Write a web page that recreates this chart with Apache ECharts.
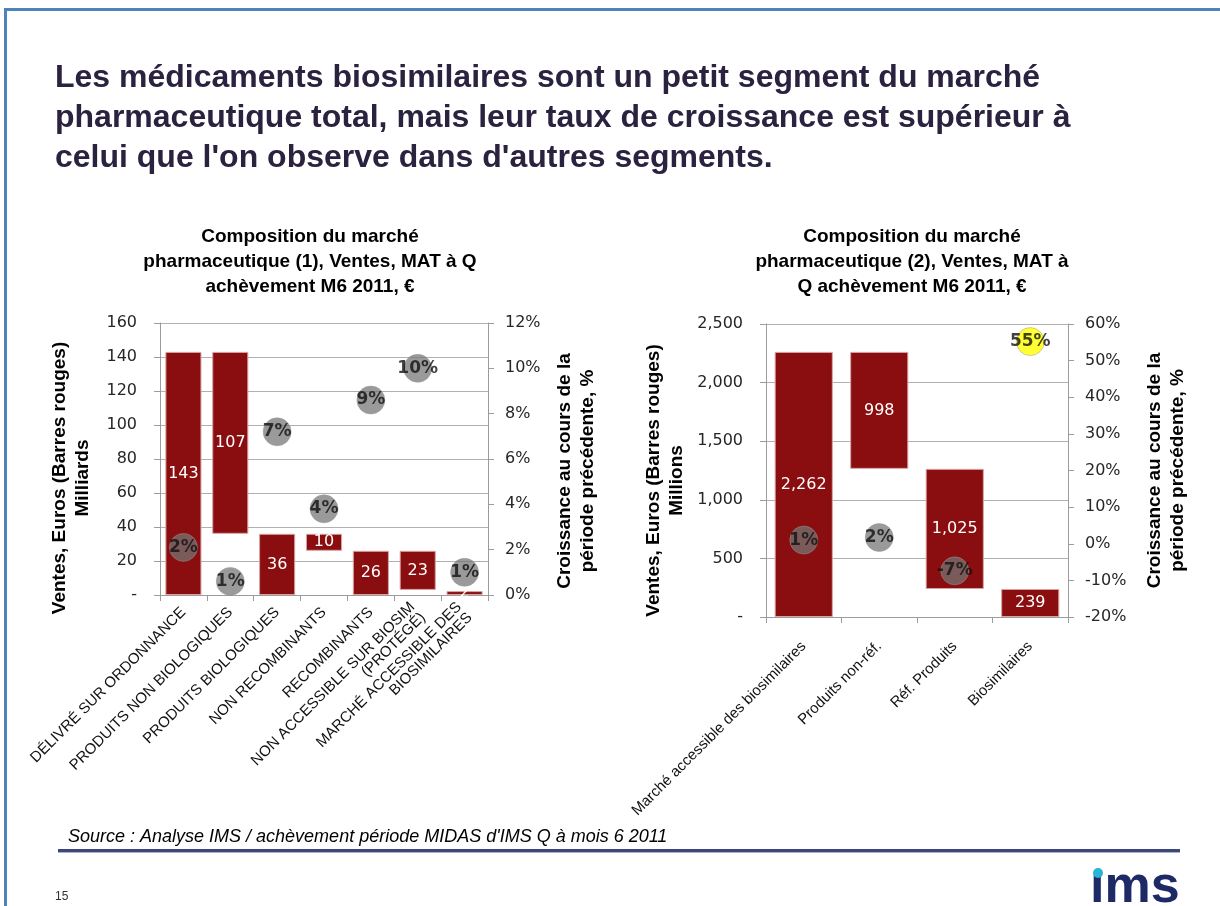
<!DOCTYPE html>
<html>
<head>
<meta charset="utf-8">
<title>Biosimilaires</title>
<script src="https://cdn.jsdelivr.net/npm/echarts@6/dist/echarts.min.js"></script>
<style>
html,body{margin:0;padding:0;background:#fff;}
#main{width:1220px;height:906px;}
</style>
</head>
<body>
<div id="main"></div>
<script>
// graphique 1 : composition du marché, milliards €
var cats1 = ['DÉLIVRÉ SUR ORDONNANCE', 'PRODUITS NON BIOLOGIQUES', 'PRODUITS BIOLOGIQUES', 'NON RECOMBINANTS',
  'RECOMBINANTS', 'NON ACCESSIBLE SUR BIOSIM\n(PROTÉGÉ)', 'MARCHÉ ACCESSIBLE DES\nBIOSIMILAIRES'];
var base1 = [0, 36, 0, 26, 0, 3, 0];          // bas des barres flottantes
var ventes1 = [143, 107, 36, 10, 26, 23, 2.3];
var croiss1 = [2.1, 0.6, 7.2, 3.8, 8.6, 10, 1];
var ticksVentes1 = [0, 20, 40, 60, 80, 100, 120, 140, 160];
var ticksCroiss1 = [0, 2, 4, 6, 8, 10, 12];

// graphique 2 : marché accessible, millions €
var cats2 = ['Marché accessible des biosimilaires', 'Produits non-réf.', 'Réf. Produits', 'Biosimilaires'];
var base2 = [0, 1264, 239, 0];
var ventes2 = [2262, 998, 1025, 239];
var croiss2 = [1, 1.7, -7.4, 55.2];
var ticksVentes2 = [0, 500, 1000, 1500, 2000, 2500];
var ticksCroiss2 = [-20, -10, 0, 10, 20, 30, 40, 50, 60];

var rouge = '#8a0d0f';
var grisAxe = '#9c9c9c';

function bornes(t){
  return {min: t[0], max: t[t.length - 1], interval: t[1] - t[0]};
}
function tiret(v){
  return v === 0 ? '-' : v.toLocaleString('en-US');
}

function axeY(grid, ticks, fmt, nom, gap, decal, marge){
  var b = bornes(ticks);
  return {
    type: 'value', gridIndex: grid, min: b.min, max: b.max, interval: b.interval,
    axisLine: {show: true, lineStyle: {color: grisAxe}},
    axisTick: {show: true, length: 6, lineStyle: {color: grisAxe}},
    splitLine: {show: false},
    axisLabel: {formatter: fmt, fontFamily: 'DejaVu Sans', fontSize: 16, color: '#262626', margin: marge},
    name: nom, nameLocation: 'middle', nameGap: gap,
    nameTextStyle: {fontFamily: 'Liberation Sans', fontSize: 19, fontWeight: 'bold', color: '#000',
      lineHeight: 23, padding: [0, decal, 0, 0]}
  };
}

function axeX(grid, cats, marge){
  return {
    type: 'category', gridIndex: grid, data: cats,
    axisLine: {show: true, lineStyle: {color: grisAxe}},
    axisTick: {show: true, length: 6, lineStyle: {color: grisAxe}},
    axisLabel: {rotate: 45, interval: 0, fontFamily: 'Liberation Sans', fontSize: 15, color: '#111',
      margin: marge, lineHeight: 15}
  };
}

var yAxes = [
  axeY(0, ticksVentes1, tiret, 'Ventes, Euros (Barres rouges)\nMilliards', 66, 38, 23),
  axeY(0, ticksCroiss1, '{value}%', 'Croissance au cours de la\npériode précédente, %', 65, 24, 17),
  axeY(1, ticksVentes2, tiret, 'Ventes, Euros (Barres rouges)\nMillions', 78, 20, 23),
  axeY(1, ticksCroiss2, '{value}%', 'Croissance au cours de la\npériode précédente, %', 75, 0, 17)
];
yAxes[0].splitLine = {show: true, lineStyle: {color: '#b0b0b0'}};
yAxes[2].splitLine = {show: true, lineStyle: {color: '#b0b0b0'}};
yAxes[1].position = 'right';
yAxes[3].position = 'right';

var maxCroiss = Math.max.apply(null, croiss2);

function barres(grid, stack, base, ventes, fmt){
  return [{
    type: 'bar', xAxisIndex: grid, yAxisIndex: grid * 2, stack: stack, data: base,
    barCategoryGap: '23%', silent: true,
    itemStyle: {color: 'rgba(0,0,0,0)'}
  }, {
    type: 'bar', xAxisIndex: grid, yAxisIndex: grid * 2, stack: stack, data: ventes,
    barCategoryGap: '23%',
    itemStyle: {color: rouge, borderColor: '#d9a3a3', borderWidth: 1},
    label: {show: true, position: 'inside', color: '#fff', fontFamily: 'DejaVu Sans', fontSize: 16,
      formatter: function(p){ return fmt(p.value); }}
  }];
}

function bulles(grid, data){
  return {
    type: 'scatter', xAxisIndex: grid, yAxisIndex: grid * 2 + 1, data: data, symbolSize: 28, z: 5,
    itemStyle: {
      color: function(p){ return p.value === maxCroiss ? '#ffff00' : 'rgba(118,118,118,0.92)'; },
      borderColor: 'rgba(150,150,150,0.6)', borderWidth: 1
    },
    label: {show: true, position: 'inside', color: '#111', fontWeight: 'bold', fontFamily: 'DejaVu Sans',
      fontSize: 17, formatter: function(p){ return Math.round(p.value) + '%'; }}
  };
}

var chart = echarts.init(document.getElementById('main'));

chart.setOption({
  animation: false,
  textStyle: {fontFamily: 'Liberation Sans'},
  grid: [
    {left: 160, top: 323, width: 328, height: 272},
    {left: 766, top: 324, width: 302, height: 293}
  ],
  xAxis: [axeX(0, cats1, 15), axeX(1, cats2, 27)],
  yAxis: yAxes,
  series: []
    .concat(barres(0, 'g1', base1, ventes1, function(v){ return Math.round(v); }))
    .concat(barres(1, 'g2', base2, ventes2, function(v){ return v.toLocaleString('en-US'); }))
    .concat([bulles(0, croiss1), bulles(1, croiss2)]),
  graphic: [
    // cadre bleu
    {type: 'rect', shape: {x: 4, y: 8, width: 1216, height: 3}, style: {fill: '#4f81bd'}},
    {type: 'rect', shape: {x: 4, y: 8, width: 3, height: 898}, style: {fill: '#4f81bd'}},
    {type: 'text', x: 55, y: 58, style: {
      text: 'Les médicaments biosimilaires sont un petit segment du marché\npharmaceutique total, mais leur taux de croissance est supérieur à\ncelui que l\'on observe dans d\'autres segments.',
      fill: '#2b2240', fontFamily: 'Liberation Sans', fontSize: 32, fontWeight: 'bold', lineHeight: 40,
      align: 'left', verticalAlign: 'top'}},
    {type: 'text', x: 310, y: 224, style: {
      text: 'Composition du marché\npharmaceutique (1), Ventes, MAT à Q\nachèvement M6 2011, €',
      fill: '#000', fontFamily: 'Liberation Sans', fontSize: 19, fontWeight: 'bold', lineHeight: 25,
      align: 'center', verticalAlign: 'top'}},
    {type: 'text', x: 912, y: 224, style: {
      text: 'Composition du marché\npharmaceutique (2), Ventes, MAT à\nQ achèvement M6 2011, €',
      fill: '#000', fontFamily: 'Liberation Sans', fontSize: 19, fontWeight: 'bold', lineHeight: 25,
      align: 'center', verticalAlign: 'top'}},
    {type: 'text', x: 68, y: 837, style: {
      text: 'Source : Analyse IMS / achèvement période MIDAS d\'IMS Q à mois 6 2011',
      fill: '#000', fontFamily: 'Liberation Sans', fontSize: 18, fontStyle: 'italic',
      align: 'left', verticalAlign: 'middle'}},
    {type: 'rect', shape: {x: 58, y: 849, width: 1122, height: 3}, style: {fill: '#3d4778'}},
    {type: 'rect', shape: {x: 58, y: 852, width: 1122, height: 1}, style: {fill: '#a9b0cc'}},
    {type: 'text', x: 55, y: 897, style: {text: '15', fill: '#333', fontFamily: 'Liberation Sans',
      fontSize: 12, align: 'left', verticalAlign: 'middle'}},
    // logo
    {type: 'text', x: 1090, y: 862, style: {text: 'ıms', fill: '#1d2a66', fontFamily: 'Liberation Sans',
      fontSize: 52, fontWeight: 'bold', align: 'left', verticalAlign: 'top'}},
    {type: 'circle', shape: {cx: 1098, cy: 873, r: 5}, style: {fill: '#29b3d6'}}
  ]
});
</script>
</body>
</html>
